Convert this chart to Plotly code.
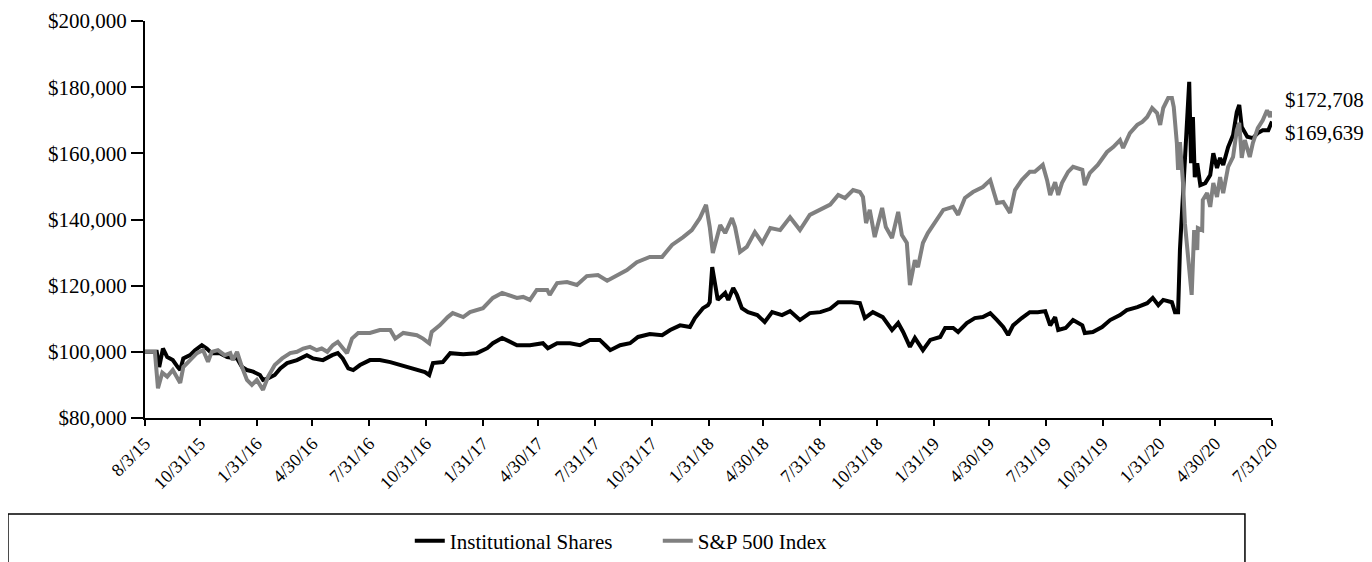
import pandas as pd
import plotly.graph_objects as go

START_DATE = "2015-08-03"
END_DATE = "2020-07-31"

# (days since 8/3/15, value in $)
inst_points = [
    (0, 100000), (3, 100000), (19, 100000), (23, 95400), (29, 101000), (36, 98400), (45, 97500),
    (53, 95400), (57, 94500), (62, 98000), (73, 99000), (81, 100500), (92, 102000), (100, 101000),
    (108, 99600), (121, 99600), (133, 98400), (149, 98000), (157, 95400), (165, 94500), (175, 94000),
    (186, 93000), (191, 91500), (199, 92000), (210, 93000), (219, 95000), (230, 96600), (246, 97500),
    (262, 99000), (272, 98000), (288, 97500), (303, 99000), (312, 99600), (320, 98000), (329, 95000),
    (337, 94500), (348, 96000), (364, 97500), (380, 97500), (397, 96900), (413, 96000), (434, 95000),
    (453, 93900), (460, 93000), (466, 96600), (482, 96900), (494, 99600), (515, 99300), (537, 99600),
    (554, 101100), (563, 102600), (578, 104200), (591, 103000), (602, 102000), (623, 102000),
    (644, 102600), (652, 101100), (667, 102600), (688, 102600), (704, 102000), (720, 103600),
    (736, 103600), (745, 102000), (753, 100500), (769, 102000), (785, 102600), (798, 104500),
    (817, 105400), (837, 105000), (850, 106600), (866, 108000), (882, 107500), (890, 110200),
    (903, 113200), (911, 114100), (914, 115000), (918, 125600), (923, 120800), (927, 115700),
    (939, 117800), (944, 115700), (952, 119300), (958, 117200), (966, 113200), (976, 112000),
    (991, 111100), (1003, 109000), (1015, 112000), (1031, 111100), (1044, 112300), (1060, 109600),
    (1076, 111700), (1093, 112000), (1109, 113000), (1122, 115000), (1144, 115000), (1157, 114700),
    (1165, 110200), (1178, 112000), (1194, 110500), (1209, 106600), (1219, 108700), (1227, 106000),
    (1238, 101500), (1246, 104200), (1259, 100500), (1271, 103600), (1287, 104500), (1295, 107200),
    (1308, 107200), (1316, 106000), (1330, 108700), (1343, 110200), (1356, 110500), (1368, 111700),
    (1379, 109600), (1389, 107500), (1397, 105100), (1405, 108000), (1419, 110200), (1432, 112000),
    (1445, 112000), (1457, 112300), (1465, 108000), (1473, 110500), (1478, 106600), (1490, 107200),
    (1502, 109600), (1517, 108000), (1521, 105700), (1534, 106000), (1549, 107500), (1562, 109600),
    (1578, 111100), (1589, 112600), (1606, 113500), (1622, 114700), (1631, 116300), (1640, 114100),
    (1648, 115700), (1662, 115000), (1667, 112000), (1672, 112000), (1675, 130800), (1680, 148000),
    (1686, 167000), (1690, 181600), (1693, 157000), (1696, 171000), (1699, 152800), (1703, 157000),
    (1708, 150400), (1716, 151000), (1724, 153400), (1729, 160000), (1735, 155600), (1740, 158600),
    (1745, 156500), (1753, 161900), (1761, 165500), (1767, 172500), (1771, 174600), (1775, 168000),
    (1784, 165000), (1793, 164600), (1801, 166100), (1809, 167000), (1818, 167000), (1824, 169639),
]

sp_points = [
    (0, 100000), (3, 100000), (16, 100000), (21, 89000), (28, 93700), (36, 92500), (45, 94500),
    (57, 90600), (62, 95400), (73, 97500), (84, 99600), (94, 100500), (102, 97000), (108, 100000),
    (118, 100500), (129, 99000), (138, 99600), (142, 97500), (149, 100000), (157, 95400), (165, 91500),
    (173, 90000), (181, 91500), (191, 88500), (199, 92400), (210, 96000), (222, 98000), (235, 99600),
    (246, 100000), (256, 101000), (267, 101500), (278, 100500), (286, 101000), (295, 100000),
    (304, 102000), (312, 103000), (320, 101000), (327, 99600), (335, 104000), (345, 105700),
    (364, 105700), (380, 106600), (397, 106600), (405, 104000), (418, 105700), (440, 105000),
    (450, 104000), (460, 102600), (464, 106000), (477, 108000), (490, 110500), (498, 111700),
    (515, 110500), (526, 112000), (547, 113200), (563, 116300), (578, 117800), (591, 116900),
    (602, 116300), (612, 116600), (623, 115700), (634, 118700), (651, 118700), (655, 117200),
    (667, 120800), (683, 121100), (699, 120200), (715, 122900), (733, 123200), (748, 121500),
    (764, 123200), (780, 124700), (796, 127100), (817, 128700), (837, 128700), (853, 132300),
    (871, 134700), (885, 136800), (898, 140400), (908, 144400), (914, 137700), (919, 129900),
    (931, 138300), (939, 135900), (950, 140400), (955, 137700), (963, 130200), (974, 131700),
    (987, 136200), (999, 132900), (1012, 137400), (1028, 136800), (1044, 140700), (1060, 136800),
    (1076, 141400), (1093, 142900), (1109, 144500), (1122, 147400), (1133, 146500), (1146, 148900),
    (1157, 148300), (1162, 146800), (1167, 138900), (1173, 142900), (1181, 134700), (1193, 143500),
    (1199, 137700), (1209, 134400), (1219, 142300), (1225, 135300), (1233, 132900), (1238, 120200),
    (1246, 127700), (1251, 125600), (1259, 132900), (1267, 135900), (1282, 139800), (1292, 142900),
    (1308, 143800), (1316, 141400), (1327, 146500), (1340, 148300), (1356, 149800), (1368, 151900),
    (1379, 145000), (1389, 145300), (1400, 142000), (1408, 148900), (1419, 151900), (1432, 154400),
    (1440, 154400), (1453, 156500), (1460, 151900), (1465, 147400), (1473, 151300), (1478, 147400),
    (1484, 151000), (1494, 154400), (1502, 155900), (1517, 155000), (1521, 150400), (1529, 154000),
    (1542, 156500), (1557, 160400), (1567, 161900), (1578, 164000), (1583, 161600), (1594, 166100),
    (1606, 168600), (1614, 169500), (1622, 171000), (1630, 173700), (1638, 172200), (1643, 168600),
    (1648, 173700), (1656, 176700), (1662, 176700), (1665, 174000), (1670, 163100), (1672, 155000),
    (1675, 163400), (1680, 151000), (1683, 138900), (1688, 129900), (1691, 122600), (1694, 117200),
    (1698, 136800), (1703, 130800), (1704, 137400), (1711, 136800), (1712, 145900), (1719, 148000),
    (1724, 143800), (1729, 151000), (1735, 146800), (1740, 152800), (1745, 148000), (1753, 155900),
    (1761, 158900), (1767, 167000), (1771, 169200), (1775, 158600), (1780, 164000), (1788, 158900),
    (1793, 163100), (1801, 167600), (1809, 170000), (1816, 173000), (1821, 171000), (1824, 172708),
]

tick_dates = ["2015-08-03", "2015-10-31", "2016-01-31", "2016-04-30", "2016-07-31",
              "2016-10-31", "2017-01-31", "2017-04-30", "2017-07-31", "2017-10-31",
              "2018-01-31", "2018-04-30", "2018-07-31", "2018-10-31", "2019-01-31",
              "2019-04-30", "2019-07-31", "2019-10-31", "2020-01-31", "2020-04-30",
              "2020-07-31"]
y_ticks = [80000, 100000, 120000, 140000, 160000, 180000, 200000]

series_names = ["Institutional Shares", "S&P 500 Index"]
series_colors = ["#000000", "#808080"]

FONT = "Liberation Serif, Times New Roman, serif"
start = pd.Timestamp(START_DATE)


def to_xy(points):
    days = [p[0] for p in points]
    vals = [p[1] for p in points]
    dates = start + pd.to_timedelta(days, unit="D")
    return dates, vals


fig = go.Figure()
for name, color, pts in zip(series_names, series_colors, [inst_points, sp_points]):
    x, y = to_xy(pts)
    fig.add_trace(go.Scatter(x=x, y=y, mode="lines", name=name,
                             line=dict(color=color, width=4), hoverinfo="skip"))

tick_ts = [pd.Timestamp(d) for d in tick_dates]
tick_text = [f"{t.month}/{t.day}/{t.year % 100:02d}" for t in tick_ts]
y_text = [f"${v:,}" for v in y_ticks]

# the page body adds an 8px offset, so the figure is 8px smaller on each side
fig.update_layout(
    width=1364, height=554,
    margin=dict(l=137, r=100, t=13, b=144, autoexpand=False),
    paper_bgcolor="white", plot_bgcolor="white",
    font=dict(family=FONT, size=21, color="#000"),
    showlegend=True,
    legend=dict(orientation="h", x=0.455, y=-0.31, xanchor="center", yanchor="middle",
                entrywidth=203, entrywidthmode="pixels",
                bgcolor="rgba(0,0,0,0)", font=dict(size=21, family=FONT)),
)
fig.update_xaxes(
    type="date", range=[START_DATE, END_DATE], automargin=False,
    tickvals=tick_ts, ticktext=tick_text, tickangle=-45,
    showgrid=False, zeroline=False,
    showline=True, linecolor="#000", linewidth=2,
    ticks="outside", ticklen=6, tickwidth=2, tickcolor="#000",
    tickfont=dict(size=18, family=FONT),
)
fig.update_yaxes(
    range=[80000, 200000], automargin=False,
    tickvals=y_ticks, ticktext=y_text,
    showgrid=False, zeroline=False,
    showline=True, linecolor="#000", linewidth=2,
    ticks="outside", ticklen=12, tickwidth=2, tickcolor="#000",
    tickfont=dict(size=21, family=FONT),
)

# end-value labels
final_sp = sp_points[-1][1]
final_inst = inst_points[-1][1]
fig.add_annotation(xref="paper", yref="paper", x=1.010, y=0.80, xanchor="left", yanchor="middle",
                   text=f"${final_sp:,.0f}", showarrow=False, font=dict(size=21, family=FONT))
fig.add_annotation(xref="paper", yref="paper", x=1.010, y=0.717, xanchor="left", yanchor="middle",
                   text=f"${final_inst:,.0f}", showarrow=False, font=dict(size=21, family=FONT))

# legend box
fig.add_shape(type="rect", xref="paper", yref="paper",
              x0=-0.1216, x1=0.976, y0=-0.40, y1=-0.2418,
              line=dict(color="#000", width=1.5), fillcolor="rgba(0,0,0,0)")

fig.write_html("out.html")
